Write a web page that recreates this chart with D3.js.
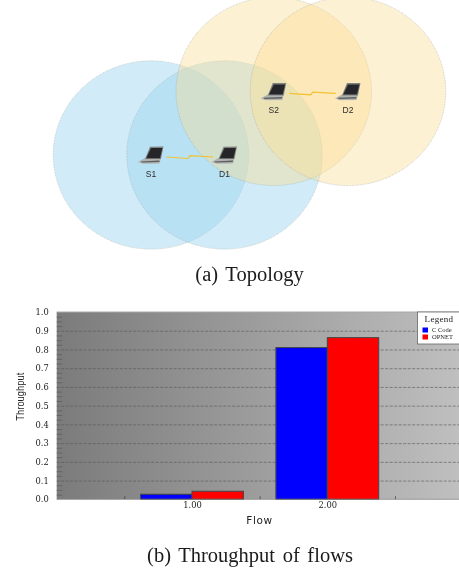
<!DOCTYPE html>
<html>
<head>
<meta charset="utf-8">
<script src="https://cdn.jsdelivr.net/npm/d3@7"></script>
<style>
  html, body { margin: 0; padding: 0; background: #fff; overflow: hidden; }
  svg { display: block; }
</style>
</head>
<body>
<svg id="fig" width="459" height="573"></svg>
<script>
// topology, in units of one source-destination hop
const nodeNames = ["S1", "D1", "S2", "D2"];
const nodeX = [0, 1, 1.67, 2.68];
const nodeY = [0, 0, 0.865, 0.865];
const nodeGroup = ["blue", "blue", "yellow", "yellow"];
const linkFrom = [0, 2];
const rangeRadius = 1.33;

// throughput chart
const flows = [1, 2];
const cCode = [0.027, 0.81];
const opnet = [0.043, 0.863];
const yTicks = [0, 0.1, 0.2, 0.3, 0.4, 0.5, 0.6, 0.7, 0.8, 0.9, 1];
const yMinor = [0.025, 0.05, 0.075, 0.125, 0.15, 0.175, 0.225, 0.25, 0.275, 0.325, 0.35, 0.375,
  0.425, 0.45, 0.475, 0.525, 0.55, 0.575, 0.625, 0.65, 0.675, 0.725, 0.75, 0.775,
  0.825, 0.85, 0.875, 0.925, 0.95, 0.975];
const xMinor = [0.5, 1.5, 2.5];
const legendNames = ["C Code", "OPNET"];
const barColors = ["#0000ff", "#ff0000"];

const svg = d3.select("#fig");
const defs = svg.append("defs");

defs.append("filter").attr("id", "soft")
  .append("feGaussianBlur").attr("stdDeviation", 0.3);

const grad = defs.append("linearGradient").attr("id", "plotBg");
grad.append("stop").attr("offset", "0%").attr("stop-color", "#7b7b7b");
grad.append("stop").attr("offset", "100%").attr("stop-color", "#bfbfbf");

const root = svg.append("g").attr("filter", "url(#soft)");

// (a) topology, the picture is squeezed a little vertically
const hx = d3.scaleLinear().domain([0, 1]).range([151, 224.5]);
const hy = d3.scaleLinear().domain([0, 1]).range([155, 81.5]);
const hrx = d3.scaleLinear().domain([0, 1]).range([0, 73.5]);
const hry = d3.scaleLinear().domain([0, 1]).range([0, 70.8]);

const fillOf = { blue: "#9ad5f0", yellow: "#fbdc90" };
const alphaOf = { blue: 0.45, yellow: 0.4 };

// yellow disks sit on top of the blue ones
const drawOrder = [0, 1, 2, 3];

root.append("g").selectAll("ellipse")
  .data(drawOrder)
  .join("ellipse")
  .attr("cx", i => hx(nodeX[i]))
  .attr("cy", i => hy(nodeY[i]))
  .attr("rx", hrx(rangeRadius))
  .attr("ry", hry(rangeRadius))
  .attr("fill", i => fillOf[nodeGroup[i]])
  .attr("fill-opacity", i => alphaOf[nodeGroup[i]])
  .attr("stroke", "#8f9a98")
  .attr("stroke-opacity", 0.75)
  .attr("stroke-width", 0.6)
  .attr("stroke-dasharray", "0.8 0.8");

const laptop = root.append("g").selectAll("g")
  .data(d3.range(nodeNames.length))
  .join("g")
  .attr("transform", i => `translate(${hx(nodeX[i])},${hy(nodeY[i])})`);

laptop.append("path")
  .attr("d", "M-13,7 L-6,3 L10,3 L8.5,8.5 L-8,8.8 Z")
  .attr("fill", "#b0b2b0");
laptop.append("path")
  .attr("d", "M-1,-8.3 L12.5,-8.5 L10,4 L-6,4 Z")
  .attr("fill", "#808281");
laptop.append("path")
  .attr("d", "M0,-7 L11.4,-7 L9,3.2 L-4.8,3.2 Z")
  .attr("fill", "#262829");
laptop.append("path")
  .attr("d", "M-10.5,6.4 L8.5,5.6 L8.2,7 L-9,7.6 Z")
  .attr("fill", "#5c5e5e");

laptop.append("text")
  .attr("y", 22)
  .attr("text-anchor", "middle")
  .style("font-family", "'Liberation Sans', sans-serif")
  .style("font-size", "8.5px")
  .attr("fill", "#2b2b2b")
  .text(i => nodeNames[i]);

// lightning between source and destination
root.append("g").selectAll("path")
  .data(linkFrom)
  .join("path")
  .attr("transform", i => `translate(${hx(nodeX[i])},${hy(nodeY[i])})`)
  .attr("d", "M15.5,2 L37,3.5 L39,0.7 L62,2")
  .attr("fill", "none")
  .attr("stroke", "#f2c230")
  .attr("stroke-width", 1.2);

// (b) throughput bars
const plotLeft = 56.7, plotRight = 462.6, plotTop = 312, plotBottom = 499.3;
const x = d3.scaleLinear().domain([0, 3]).range([plotLeft, plotRight]);
const y = d3.scaleLinear().domain([0, 1]).range([plotBottom, plotTop]);
const barWidth = 0.38;

const chart = root.append("g");

chart.append("rect")
  .attr("x", plotLeft)
  .attr("y", plotTop)
  .attr("width", 459 - plotLeft)
  .attr("height", plotBottom - plotTop)
  .attr("fill", "url(#plotBg)");

// grid
chart.append("g")
  .attr("transform", `translate(${plotLeft},0)`)
  .call(d3.axisRight(y).tickValues(yTicks.slice(1, -1)).tickSize(459 - plotLeft).tickFormat(""))
  .call(g => g.select(".domain").remove())
  .selectAll("line")
  .attr("stroke", "#555")
  .attr("stroke-width", 0.6)
  .attr("stroke-dasharray", "3 1.5");

// minor ticks
chart.append("g")
  .attr("transform", `translate(${plotLeft},0)`)
  .call(d3.axisRight(y).tickValues(yMinor).tickSize(5.5).tickFormat(""))
  .call(g => g.select(".domain").remove())
  .selectAll("line")
  .attr("stroke", "#555")
  .attr("stroke-width", 0.6);

chart.append("g")
  .attr("transform", `translate(0,${plotBottom})`)
  .call(d3.axisTop(x).tickValues(xMinor).tickSize(3).tickFormat(""))
  .call(g => g.select(".domain").remove())
  .selectAll("line")
  .attr("stroke", "#333")
  .attr("stroke-width", 0.7);

// bars
[cCode, opnet].forEach((values, s) => {
  chart.append("g").selectAll("rect")
    .data(flows)
    .join("rect")
    .attr("x", (d, i) => x(s === 0 ? d - barWidth : d))
    .attr("y", (d, i) => y(values[i]))
    .attr("width", x(barWidth) - x(0))
    .attr("height", (d, i) => y(0) - y(values[i]))
    .attr("fill", barColors[s])
    .attr("stroke", "#444")
    .attr("stroke-width", 1);
});

// plot frame, lighter along the top and bottom
chart.append("line")
  .attr("x1", plotLeft).attr("x2", 459)
  .attr("y1", plotTop).attr("y2", plotTop)
  .attr("stroke", "#a8a8a8").attr("stroke-width", 1);
chart.append("line")
  .attr("x1", plotLeft).attr("x2", 459)
  .attr("y1", plotBottom).attr("y2", plotBottom)
  .attr("stroke", "#8c8c8c").attr("stroke-width", 0.8);

// axis labels
const yAxis = chart.append("g")
  .attr("transform", `translate(${plotLeft},0)`)
  .call(d3.axisLeft(y).tickValues(yTicks).tickSize(0).tickPadding(8).tickFormat(d3.format(".1f")));
yAxis.select(".domain").remove();
yAxis.selectAll("text")
  .style("font-family", "'DejaVu Serif', serif")
  .style("font-size", "8.3px")
  .attr("fill", "#222");

const xAxis = chart.append("g")
  .attr("transform", `translate(0,${plotBottom})`)
  .call(d3.axisBottom(x).tickValues(flows).tickSize(0).tickPadding(3).tickFormat(d3.format(".2f")));
xAxis.select(".domain").remove();
xAxis.selectAll("text")
  .style("font-family", "'DejaVu Serif', serif")
  .style("font-size", "8.3px")
  .attr("fill", "#222");

chart.append("text")
  .attr("x", 259.5)
  .attr("y", 524.3)
  .attr("text-anchor", "middle")
  .style("font-family", "'DejaVu Sans', sans-serif")
  .style("font-size", "10.5px")
  .style("letter-spacing", "0.6px")
  .attr("fill", "#222")
  .text("Flow");

chart.append("text")
  .attr("transform", "translate(23.5,396.7) rotate(-90)")
  .attr("text-anchor", "middle")
  .attr("textLength", 48)
  .attr("lengthAdjust", "spacingAndGlyphs")
  .style("font-family", "'Liberation Sans', sans-serif")
  .style("font-size", "11px")
  .attr("fill", "#222")
  .text("Throughput");

// legend
const legend = chart.append("g");
legend.append("rect")
  .attr("x", 417.5)
  .attr("y", 312)
  .attr("width", 43)
  .attr("height", 32)
  .attr("fill", "#fff")
  .attr("stroke", "#666")
  .attr("stroke-width", 0.8);
legend.append("text")
  .attr("x", 439)
  .attr("y", 322)
  .attr("text-anchor", "middle")
  .style("font-family", "'Liberation Serif', serif")
  .style("font-size", "9px")
  .style("letter-spacing", "0.3px")
  .attr("fill", "#222")
  .text("Legend");

const legendRow = legend.selectAll(".row")
  .data(legendNames)
  .join("g")
  .attr("class", "row")
  .attr("transform", (d, i) => `translate(422.5,${327.5 + i * 7})`);
legendRow.append("rect")
  .attr("width", 5.5)
  .attr("height", 5)
  .attr("fill", (d, i) => barColors[i]);
legendRow.append("text")
  .attr("x", 9.5)
  .attr("y", 4.6)
  .style("font-family", "'Liberation Serif', serif")
  .style("font-size", "6.5px")
  .attr("fill", "#222")
  .text(d => d);

// captions
root.selectAll(".caption")
  .data([{ t: "(a) Topology", x: 249.5, y: 281 }, { t: "(b) Throughput of flows", x: 250, y: 562 }])
  .join("text")
  .attr("class", "caption")
  .attr("x", d => d.x)
  .attr("y", d => d.y)
  .attr("text-anchor", "middle")
  .style("font-family", "'Liberation Serif', serif")
  .style("font-size", "20.5px")
  .style("word-spacing", "2.5px")
  .attr("fill", "#1a1a1a")
  .text(d => d.t);
</script>
</body>
</html>
